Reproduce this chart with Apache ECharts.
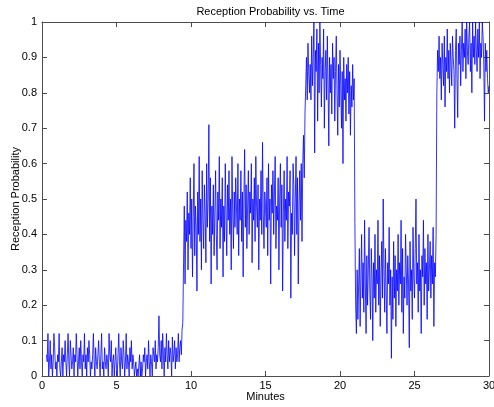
<!DOCTYPE html>
<html>
<head>
<meta charset="utf-8">
<script src="https://cdn.jsdelivr.net/npm/echarts@6/dist/echarts.min.js"></script>
<style>html,body{margin:0;padding:0;background:#fff}#c{width:494px;height:407px}</style>
</head>
<body>
<div id="c"></div>
<script>
// Sampling grid (minutes)
const t0 = 0.30;
const dt = 0.05;
const xTicks = [0, 5, 10, 15, 20, 25, 30];
const yTicks = [0, 0.1, 0.2, 0.3, 0.4, 0.5, 0.6, 0.7, 0.8, 0.9, 1];

// Phase 1: 0.30 - 9.45 min
const lowPhase = [
0.06,0.04,0.12,0,0.04,0.1,0.02,0.06,0,0.04,
0.12,0.08,0.02,0.04,0,0.06,0.04,0.12,0.02,0,
0.04,0.08,0,0.06,0.04,0.1,0.04,0,0.06,0.12,
0.04,0,0.1,0.06,0.02,0.04,0.08,0,0.06,0.04,
0.12,0.06,0,0.04,0.08,0.02,0.1,0.04,0,0.06,
0.04,0.12,0.02,0.06,0,0.08,0.04,0.1,0.06,0,
0.04,0.02,0.06,0.12,0.04,0,0.08,0.04,0.02,0.06,
0.1,0.04,0,0.06,0.12,0.02,0.04,0,0.08,0.04,
0.02,0.06,0.04,0,0.12,0.06,0.04,0.1,0,0.04,
0.06,0,0.04,0.08,0.02,0,0.06,0.12,0.04,0,
0.08,0.04,0.02,0.1,0.06,0,0.04,0.12,0.02,0.06,
0.04,0,0.08,0.04,0.1,0.02,0.06,0.04,0,0,
0.04,0,0.02,0,0,0.06,0,0.04,0,0.02,
0.06,0.04,0.08,0,0.04,0.06,0.02,0.1,0.04,0,
0.06,0.04,0,0.08,0.06,0.04,0.1,0.02,0.06,0.04,
0.08,0.17,0.06,0.04,0.1,0.02,0.12,0.06,0,0.08,
0.04,0.12,0.06,0.02,0.1,0.04,0.08,0.06,0,0.11,
0.04,0.06,0.1,0.02,0.08,0.04,0.06,0.12,0.04,0.08,
0.1,0.06,0.13,0.15
];
// Phase 2: 9.50 - 17.45 min
const midPhase = [
0.32,0.48,0.26,0.44,0.38,0.52,0.3,0.46,0.4,0.56,
0.36,0.5,0.28,0.45,0.6,0.34,0.48,0.42,0.24,0.52,
0.4,0.62,0.38,0.5,0.3,0.58,0.44,0.36,0.54,0.46,
0.32,0.6,0.42,0.5,0.71,0.38,0.56,0.26,0.48,0.4,
0.54,0.34,0.46,0.58,0.4,0.3,0.52,0.44,0.62,0.36,
0.5,0.42,0.56,0.28,0.48,0.38,0.6,0.46,0.34,0.54,
0.44,0.58,0.4,0.5,0.3,0.62,0.46,0.36,0.52,0.42,
0.56,0.48,0.4,0.6,0.34,0.5,0.44,0.58,0.38,0.52,
0.28,0.5,0.64,0.42,0.54,0.36,0.48,0.58,0.4,0.52,
0.46,0.6,0.32,0.5,0.44,0.56,0.38,0.62,0.48,0.42,
0.54,0.3,0.5,0.44,0.58,0.4,0.66,0.46,0.36,0.52,
0.48,0.42,0.56,0.34,0.6,0.44,0.5,0.26,0.54,0.46,
0.58,0.4,0.52,0.62,0.36,0.48,0.44,0.56,0.3,0.5,
0.6,0.42,0.54,0.24,0.46,0.58,0.38,0.5,0.44,0.62,
0.36,0.52,0.48,0.58,0.22,0.46,0.4,0.6,0.54,0.34,
0.5,0.62,0.4,0.56,0.26,0.48,0.58,0.44,0.6,0.38
];
// Transition: 17.50 - 17.95 min
const risePhase = [0.6,0.68,0.56,0.74,0.82,0.9,0.78,0.94,0.86,0.8];
// Phase 3: 18.00 - 20.95 min
const highPhase1 = [
0.88,0.78,0.96,0.82,0.9,1.0,0.63,0.92,0.86,0.98,
0.72,0.94,0.8,1.0,0.88,0.76,0.9,0.84,0.98,0.7,
0.86,0.92,0.78,0.96,0.82,0.65,0.9,0.8,0.88,0.74,
0.94,0.84,0.9,0.72,0.86,0.96,0.8,0.68,0.88,0.76,
0.92,0.82,0.7,0.86,0.6,0.9,0.78,0.84,0.72,0.88,
0.8,0.9,0.74,0.86,0.68,0.82,0.76,0.88,0.78,0.84
];
// Phase 4: 21.00 - 26.45 min
const dropPhase = [
0.43,0.2,0.12,0.3,0.16,0.26,0.36,0.14,0.28,0.4,
0.22,0.32,0.18,0.44,0.26,0.12,0.34,0.2,0.3,0.42,
0.24,0.16,0.36,0.28,0.1,0.32,0.22,0.4,0.18,0.3,
0.26,0.44,0.2,0.34,0.14,0.28,0.38,0.22,0.5,0.3,
0.18,0.36,0.24,0.12,0.32,0.26,0.42,0.2,0.3,0.05,
0.28,0.16,0.38,0.22,0.34,0.14,0.3,0.24,0.4,0.2,
0.32,0.26,0.44,0.18,0.36,0.12,0.28,0.22,0.4,0.3,
0.2,0.34,0.26,0.08,0.38,0.24,0.3,0.16,0.42,0.28,
0.22,0.36,0.5,0.26,0.32,0.18,0.4,0.24,0.3,0.12,
0.34,0.28,0.44,0.2,0.36,0.26,0.32,0.16,0.4,0.24,
0.3,0.38,0.22,0.34,0.26,0.42,0.14,0.32,0.28,0.4
];
// Phase 5: 26.50 - 30.00 min
const highPhase2 = [
0.8,0.92,0.86,0.96,0.84,0.9,0.78,0.94,0.88,0.82,
0.96,0.76,0.9,0.86,0.98,0.84,0.92,0.8,0.94,0.88,
0.82,0.96,0.9,0.86,0.7,0.92,0.98,0.84,0.73,0.94,
0.88,0.96,0.82,0.92,1.0,0.86,0.94,0.9,0.98,0.84,
1.0,0.92,0.88,0.96,1.0,0.86,0.94,0.8,1.0,0.9,
0.96,0.88,1.0,0.92,0.86,0.98,0.9,1.0,0.84,0.94,
0.9,1.0,0.96,0.88,0.72,0.94,0.86,0.92,0.84,0.8,
0.82
];

const values = [].concat(lowPhase, midPhase, risePhase, highPhase1, dropPhase, highPhase2);
const data = values.map((v, i) => [Math.round((t0 + i * dt) * 100) / 100, v]);

const font = 'Liberation Sans, Arial, sans-serif';
const axisColor = '#4d4d4d';
const label = { color: '#000', fontFamily: font, fontSize: 11 };

const chart = echarts.init(document.getElementById('c'), null, { renderer: 'canvas' });
chart.setOption({
  animation: false,
  backgroundColor: '#fff',
  title: {
    text: 'Reception Probability vs. Time',
    left: 265.5, top: 1, textAlign: 'center',
    textStyle: { fontFamily: font, fontSize: 11, fontWeight: 'normal', color: '#000' }
  },
  grid: { left: 42, right: 5, top: 22, bottom: 31, containLabel: false, outerBoundsMode: 'none' },
  xAxis: [{
    type: 'value', min: xTicks[0], max: xTicks[xTicks.length - 1], interval: 5,
    name: 'Minutes', nameLocation: 'middle', nameGap: 15, nameMoveOverlap: false,
    nameTextStyle: label,
    axisLine: { show: true, lineStyle: { color: axisColor, width: 1 } },
    axisTick: { show: true, inside: true, length: 5, lineStyle: { color: axisColor } },
    axisLabel: Object.assign({ margin: 4 }, label),
    splitLine: { show: false }
  }, {
    type: 'value', position: 'top', min: 0, max: 30, interval: 5,
    axisLine: { show: true, onZero: false, lineStyle: { color: axisColor, width: 1 } },
    axisTick: { show: true, inside: true, length: 5, lineStyle: { color: axisColor } },
    axisLabel: { show: false }, splitLine: { show: false }
  }],
  yAxis: [{
    type: 'value', min: yTicks[0], max: yTicks[yTicks.length - 1], interval: 0.1,
    name: 'Reception Probability', nameLocation: 'middle', nameGap: 21, nameMoveOverlap: false,
    nameTextStyle: label,
    axisLine: { show: true, lineStyle: { color: axisColor, width: 1 } },
    axisTick: { show: true, inside: true, length: 5, lineStyle: { color: axisColor } },
    axisLabel: Object.assign({ margin: 5 }, label),
    splitLine: { show: false }
  }, {
    type: 'value', position: 'right', min: 0, max: 1, interval: 0.1,
    axisLine: { show: true, onZero: false, lineStyle: { color: axisColor, width: 1 } },
    axisTick: { show: true, inside: true, length: 5, lineStyle: { color: axisColor } },
    axisLabel: { show: false }, splitLine: { show: false }
  }],
  series: [{
    type: 'line', xAxisIndex: 0, yAxisIndex: 0,
    data: data, showSymbol: false, symbol: 'none', clip: true,
    lineStyle: { color: '#0000ff', width: 0.8 },
    emphasis: { disabled: true }
  }]
});
</script>
</body>
</html>
